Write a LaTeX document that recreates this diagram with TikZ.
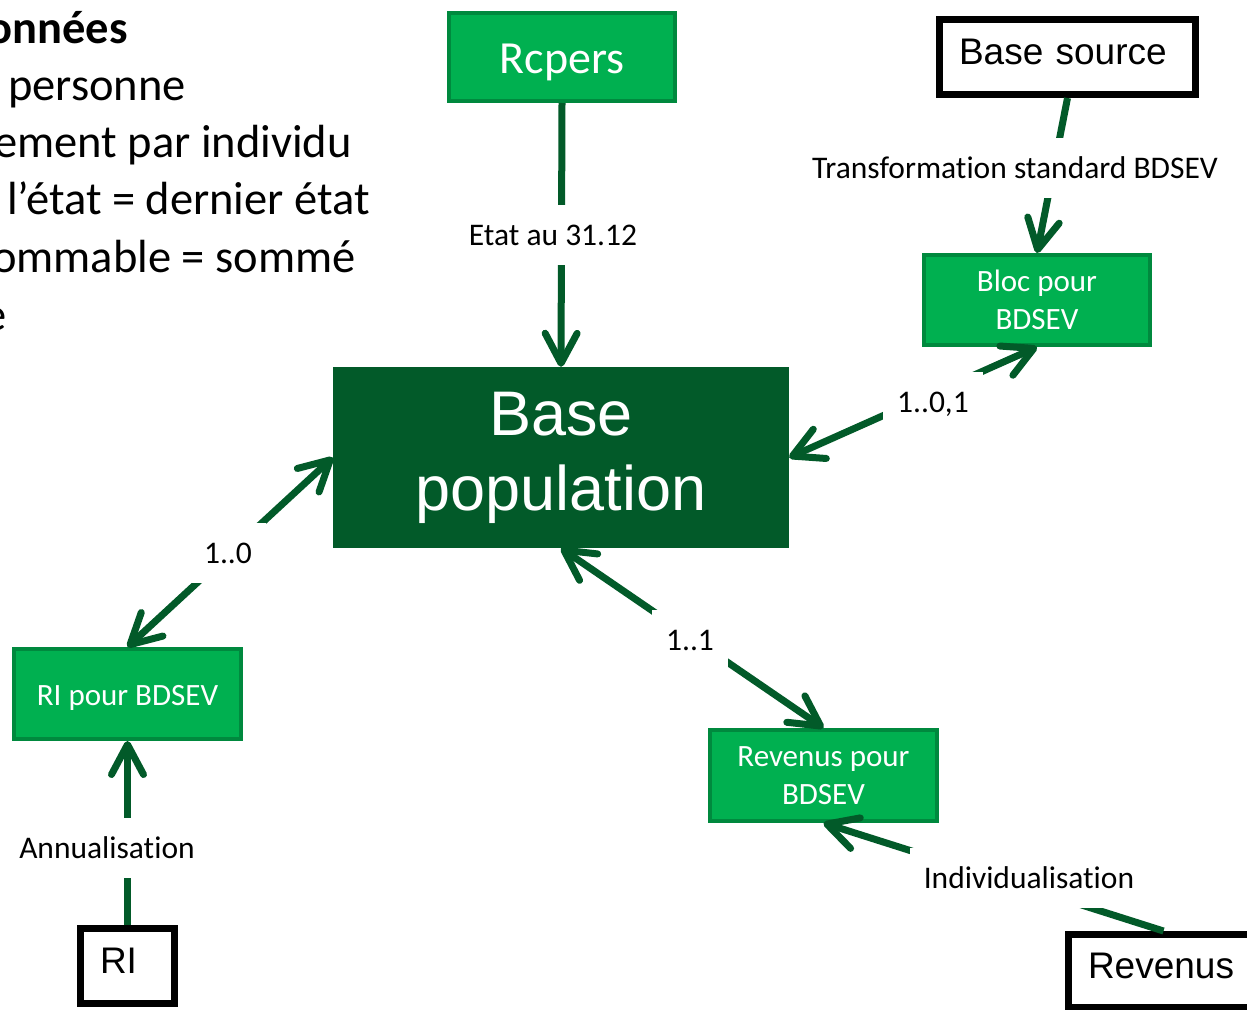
\documentclass[tikz,border=0pt]{standalone}
\usepackage{fontspec}
\setmainfont{Carlito}[Ligatures=NoCommon]
\newfontfamily\arialf{Liberation Sans}
\usetikzlibrary{arrows.meta}
\definecolor{dkgreen}{RGB}{2,90,41}
\definecolor{boxgreen}{RGB}{0,176,80}
\definecolor{boxborder}{RGB}{0,137,62}
\tikzset{
  gbox/.style={draw=boxborder, line width=4pt, fill=boxgreen, text=white, align=center, inner sep=0pt},
  bbox/.style={draw=black, line width=7pt, fill=white, text=black, align=left, inner xsep=19.5pt, inner ysep=0pt,
    font=\arialf\fontsize{37}{44}\selectfont, text height=26pt, text depth=11pt},
  conn/.style={draw=dkgreen, line width=7pt},
  lbl/.style={fill=white, text=black, inner xsep=14pt, inner ysep=20pt, text height=20pt, text depth=0pt,
    font=\fontsize{31.5}{37}\selectfont},
  side/.style={anchor=base east, inner sep=0pt, font=\fontsize{46.5}{57}\selectfont},
  >={Straight Barb[round,length=30pt,width=32pt]}
}
\begin{document}
\begin{tikzpicture}[x=1pt,y=-1pt]
\useasboundingbox (0,0) rectangle (1247,1009);
% side text
\node[side, font=\bfseries\fontsize{46.5}{57}\selectfont] (t1) at (128,43) {onnées};
\node[side] (t2) at (186,100) {personne};
\node[side] (t3) at (352,157) {ement par individu};
\node[side] (t4) at (370,214) {l’état = dernier état};
\node[side] (t5) at (356,272) {ommable = sommé};
\node[side] (t6) at (7,330) {e};
% boxes
\node[gbox, minimum width=226pt, minimum height=88pt, font=\fontsize{46}{55}\selectfont, text height=32pt, text depth=0pt] (rcpers) at (562,57) {Rcpers};
\node[gbox, minimum width=226pt, minimum height=90pt, font=\fontsize{31}{37.7}\selectfont] (bloc) at (1037,300) {Bloc pour\\BDSEV};
\node[gbox, minimum width=227pt, minimum height=90pt, font=\fontsize{31}{37.7}\selectfont, text height=22pt, text depth=0pt] (ripour) at (127.5,694) {RI pour BDSEV};
\node[gbox, minimum width=227pt, minimum height=91pt, font=\fontsize{31}{38}\selectfont] (revpour) at (823.5,775.5) {Revenus pour\\BDSEV};
\node[fill=dkgreen, text=white, align=center, inner sep=0pt, minimum width=456pt, minimum height=181pt,
  font=\arialf\fontsize{63}{75}\selectfont] (basepop) at (561,457.5) {Base\\population};
\node[bbox, minimum width=256pt, minimum height=75pt, text width=217pt] (bsrc) at (1067.5,57) {Base source};
\node[bbox, minimum width=94pt, minimum height=75pt, text width=55pt] (ri) at (127.5,966) {RI};
\node[bbox, minimum width=190pt, minimum height=73pt, text width=151pt] (revenus) at (1163.5,971) {Revenus};
% connectors
\draw[conn,->] (rcpers.south) -- (basepop.north);
\draw[conn,->] (bsrc.south) -- (bloc.north);
\draw[conn,<->] (bloc.south) -- (basepop.east);
\draw[conn,<->] (basepop.west) -- (ripour.north);
\draw[conn,<->] (basepop.south) -- (revpour.north);
\draw[conn,->] (revenus.north) -- (revpour.south);
\draw[conn,->] (ri.north) -- (ripour.south);
% labels
\node[lbl] (l1) at (553,235) {Etat au 31.12};
\node[lbl] (l2) at (1015,168) {Transformation standard BDSEV};
\node[lbl] (l3) at (933,402) {1..0,1};
\node[lbl] (l4) at (228,553) {1..0};
\node[lbl] (l5) at (690,640) {1..1};
\node[lbl] (l6) at (1029,878) {Individualisation};
\node[lbl] (l7) at (107,848) {Annualisation};
\end{tikzpicture}
\end{document}
